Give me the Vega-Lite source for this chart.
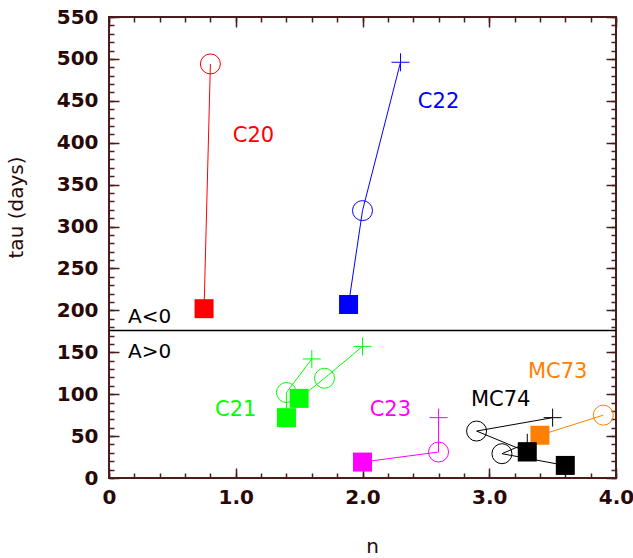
{
  "$schema": "https://vega.github.io/schema/vega-lite/v6.json",
  "autosize": "none",
  "width": 507,
  "height": 461,
  "padding": {"left": 109, "top": 17, "right": 17, "bottom": 80},
  "background": "white",
  "config": {
    "view": {"stroke": "#4a1c1c", "strokeWidth": 2},
    "axis": {
      "grid": false,
      "domain": false,
      "labelFlush": false,
      "labelOverlap": false,
      "labelFont": "DejaVu Sans",
      "labelFontSize": 20,
      "labelFontWeight": "bold",
      "labelColor": "#2a0808",
      "tickColor": "#4a1c1c",
      "tickWidth": 1.5,
      "titleFont": "DejaVu Sans",
      "titleFontSize": 20,
      "titleFontWeight": "normal",
      "titleColor": "#2a0808"
    }
  },
  "datasets": {
    "pts": [
      {"group": "C20", "series": "C20", "marker": "square", "step": 0, "n": 0.75, "tau": 202},
      {"group": "C20", "series": "C20", "marker": "circle", "step": 1, "n": 0.80, "tau": 494},
      {"group": "C22", "series": "C22", "marker": "square", "step": 0, "n": 1.89, "tau": 207},
      {"group": "C22", "series": "C22", "marker": "circle", "step": 1, "n": 2.0, "tau": 319},
      {"group": "C22", "series": "C22", "marker": "plus", "step": 2, "n": 2.3, "tau": 496},
      {"group": "C21", "series": "C21a", "marker": "square", "step": 0, "n": 1.4, "tau": 72},
      {"group": "C21", "series": "C21a", "marker": "circle", "step": 1, "n": 1.4, "tau": 102},
      {"group": "C21", "series": "C21a", "marker": "plus", "step": 2, "n": 1.6, "tau": 142},
      {"group": "C21", "series": "C21b", "marker": "square", "step": 0, "n": 1.5, "tau": 95},
      {"group": "C21", "series": "C21b", "marker": "circle", "step": 1, "n": 1.7, "tau": 119},
      {"group": "C21", "series": "C21b", "marker": "plus", "step": 2, "n": 2.0, "tau": 157},
      {"group": "C23", "series": "C23", "marker": "square", "step": 0, "n": 2.0, "tau": 19},
      {"group": "C23", "series": "C23", "marker": "circle", "step": 1, "n": 2.6, "tau": 31},
      {"group": "C23", "series": "C23", "marker": "plus", "step": 2, "n": 2.6, "tau": 72},
      {"group": "MC73", "series": "MC73", "marker": "square", "step": 0, "n": 3.4, "tau": 51},
      {"group": "MC73", "series": "MC73", "marker": "circle", "step": 1, "n": 3.9, "tau": 75},
      {"group": "MC74", "series": "MC74a", "marker": "square", "step": 0, "n": 3.3, "tau": 31},
      {"group": "MC74", "series": "MC74a", "marker": "circle", "step": 1, "n": 2.9, "tau": 56},
      {"group": "MC74", "series": "MC74a", "marker": "plus", "step": 2, "n": 3.5, "tau": 72},
      {"group": "MC74", "series": "MC74b", "marker": "square", "step": 0, "n": 3.6, "tau": 15},
      {"group": "MC74", "series": "MC74b", "marker": "circle", "step": 1, "n": 3.1, "tau": 29},
      {"group": "MC74", "series": "MC74b", "marker": "plus", "step": 2, "n": 3.3, "tau": 42}
    ],
    "labels": [
      {"label": "C20", "group": "C20", "n": 1.14, "tau": 408},
      {"label": "C22", "group": "C22", "n": 2.60, "tau": 449},
      {"label": "C21", "group": "C21", "n": 1.0, "tau": 81},
      {"label": "C23", "group": "C23", "n": 2.22, "tau": 81},
      {"label": "MC74", "group": "MC74", "n": 3.09, "tau": 93},
      {"label": "MC73", "group": "MC73", "n": 3.54, "tau": 127}
    ],
    "regions": [
      {"label": "A<0", "n": 0.15, "tau": 192},
      {"label": "A>0", "n": 0.15, "tau": 150}
    ],
    "boundary": [{"tau": 176}]
  },
  "data": {"name": "pts"},
  "resolve": {"axis": {"x": "independent", "y": "independent"}},
  "layer": [
    {
      "mark": {"type": "line", "strokeWidth": 1},
      "encoding": {
        "x": {"field": "n", "type": "quantitative",
          "scale": {"domain": [0, 4], "nice": false, "zero": false},
          "axis": {"orient": "bottom", "values": [0, 1, 2, 3, 4], "ticks": false, "labelPadding": 9,
            "labelExpr": "datum.value === 0 ? '0' : format(datum.value, '.1f')",
            "title": "n", "titleX": 263, "titleY": 74, "titleBaseline": "alphabetic", "titleAlign": "center"}},
        "y": {"field": "tau", "type": "quantitative",
          "scale": {"domain": [0, 550], "nice": false, "zero": false},
          "axis": {"orient": "left", "values": [0, 50, 100, 150, 200, 250, 300, 350, 400, 450, 500, 550],
            "ticks": false, "labelPadding": 11,
            "title": "tau (days)", "titleX": -87, "titleY": 190, "titleAngle": 270, "titleAlign": "center", "titleBaseline": "alphabetic"}},
        "color": {"field": "group", "type": "nominal", "legend": null,
          "scale": {"domain": ["C20", "C21", "C22", "C23", "MC73", "MC74", "sign"],
            "range": ["#ff0000", "#00ff00", "#0000ff", "#ff00ff", "#ff8000", "#000000", "#000000"]}},
        "detail": {"field": "series"},
        "order": {"field": "step", "type": "quantitative"}
      }
    },
    {
      "transform": [{"filter": "datum.marker === 'square'"}],
      "mark": {"type": "point", "shape": "square", "filled": true, "size": 361, "opacity": 1, "strokeWidth": 0},
      "encoding": {
        "x": {"field": "n", "type": "quantitative",
          "axis": {"orient": "bottom", "values": [0, 1, 2, 3, 4], "tickSize": -10, "labels": false, "title": null}},
        "y": {"field": "tau", "type": "quantitative",
          "axis": {"orient": "left", "values": [0, 50, 100, 150, 200, 250, 300, 350, 400, 450, 500, 550], "tickSize": -10, "labels": false, "title": null}},
        "color": {"field": "group", "type": "nominal", "legend": null}
      }
    },
    {
      "transform": [{"filter": "datum.marker === 'circle'"}],
      "mark": {"type": "point", "shape": "circle", "filled": false, "size": 400, "opacity": 1, "strokeWidth": 1},
      "encoding": {
        "x": {"field": "n", "type": "quantitative",
          "axis": {"orient": "bottom", "values": [0, 0.2, 0.4, 0.6, 0.8, 1, 1.2, 1.4, 1.6, 1.8, 2, 2.2, 2.4, 2.6, 2.8, 3, 3.2, 3.4, 3.6, 3.8, 4], "tickSize": -5, "labels": false, "title": null}},
        "y": {"field": "tau", "type": "quantitative",
          "axis": {"orient": "left", "values": [0,10,20,30,40,50,60,70,80,90,100,110,120,130,140,150,160,170,180,190,200,210,220,230,240,250,260,270,280,290,300,310,320,330,340,350,360,370,380,390,400,410,420,430,440,450,460,470,480,490,500,510,520,530,540,550], "tickSize": -5, "labels": false, "title": null}},
        "color": {"field": "group", "type": "nominal", "legend": null}
      }
    },
    {
      "transform": [{"filter": "datum.marker === 'plus'"}],
      "mark": {"type": "point", "shape": "M-1,0H1M0,-1V1", "filled": false, "size": 324, "opacity": 1, "strokeWidth": 1},
      "encoding": {
        "x": {"field": "n", "type": "quantitative",
          "axis": {"orient": "top", "values": [0, 1, 2, 3, 4], "tickSize": -10, "labels": false, "title": null}},
        "y": {"field": "tau", "type": "quantitative",
          "axis": {"orient": "right", "values": [0, 50, 100, 150, 200, 250, 300, 350, 400, 450, 500, 550], "tickSize": -10, "labels": false, "title": null}},
        "color": {"field": "group", "type": "nominal", "legend": null}
      }
    },
    {
      "data": {"name": "boundary"},
      "mark": {"type": "rule", "color": "#000000", "strokeWidth": 1.5},
      "encoding": {
        "y": {"field": "tau", "type": "quantitative", "axis": null}
      }
    },
    {
      "data": {"name": "labels"},
      "mark": {"type": "text", "font": "DejaVu Sans", "fontSize": 21, "align": "center", "baseline": "middle"},
      "encoding": {
        "x": {"field": "n", "type": "quantitative",
          "axis": {"orient": "top", "values": [0, 0.2, 0.4, 0.6, 0.8, 1, 1.2, 1.4, 1.6, 1.8, 2, 2.2, 2.4, 2.6, 2.8, 3, 3.2, 3.4, 3.6, 3.8, 4], "tickSize": -5, "labels": false, "title": null}},
        "y": {"field": "tau", "type": "quantitative",
          "axis": {"orient": "right", "values": [0,10,20,30,40,50,60,70,80,90,100,110,120,130,140,150,160,170,180,190,200,210,220,230,240,250,260,270,280,290,300,310,320,330,340,350,360,370,380,390,400,410,420,430,440,450,460,470,480,490,500,510,520,530,540,550], "tickSize": -5, "labels": false, "title": null}},
        "text": {"field": "label"},
        "color": {"field": "group", "type": "nominal", "legend": null}
      }
    },
    {
      "data": {"name": "regions"},
      "mark": {"type": "text", "font": "DejaVu Sans", "fontSize": 20, "align": "left", "baseline": "middle", "color": "#000000"},
      "encoding": {
        "x": {"field": "n", "type": "quantitative", "axis": null},
        "y": {"field": "tau", "type": "quantitative", "axis": null},
        "text": {"field": "label"}
      }
    }
  ]
}
